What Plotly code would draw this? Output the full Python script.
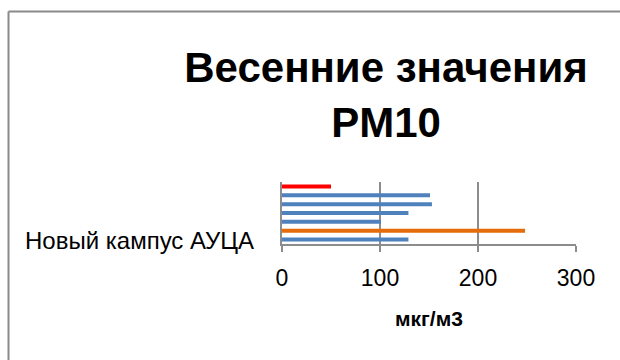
import plotly.graph_objects as go

categories = ["Новый кампус АУЦА"]
series_names = ["Серия 1", "Серия 2", "Серия 3", "Серия 4", "Серия 5", "Серия 6", "Серия 7"]
series_values = [129, 248, 101, 129, 153, 151, 50]
series_colors = ["#4F81BD", "#E46C0A", "#4F81BD", "#4F81BD", "#4F81BD", "#4F81BD", "#FF0000"]
x_ticks = [0, 100, 200, 300]
title_text = "Весенние значения<br>PM10"
x_title = "мкг/м3"

W, H = 620, 360
ml, mt = 282, 182
pw, ph = 294, 62
mr = W - ml - pw
mb = H - mt - ph

fig = go.Figure()
for name, val, col in zip(series_names, series_values, series_colors):
    fig.add_trace(go.Bar(
        y=categories, x=[val], name=name, orientation="h",
        marker=dict(color=col, line=dict(width=0)),
    ))

grid = "#8C8C8C"
font = "Liberation Sans, Arial, sans-serif"

def px_x(p):
    return (p - ml) / pw

def px_y(p):
    return (mt + ph - p) / ph

fig.update_layout(
    width=W, height=H,
    margin=dict(l=ml, r=mr, t=mt, b=mb, pad=0),
    paper_bgcolor="white", plot_bgcolor="white",
    barmode="group", bargap=0, bargroupgap=0.55,
    showlegend=False, hovermode=False,
    font=dict(family=font, color="black"),
    title=dict(text="<b>" + title_text + "</b>", x=386 / W, xanchor="center",
               y=1 - 82 / H, yanchor="middle", yref="container",
               font=dict(size=42, family=font, color="black")),
    xaxis=dict(range=[0, 300], tickvals=x_ticks, showgrid=True, gridcolor=grid, gridwidth=2,
               zeroline=False, showline=True, linecolor=grid, linewidth=2,
               ticks="outside", ticklen=6, tickwidth=2, tickcolor=grid,
               tickfont=dict(size=23, family=font, color="black"),
               ticklabelstandoff=6,
               title=dict(text="<b>" + x_title + "</b>", standoff=22,
                          font=dict(size=21, family=font, color="black"))),
    yaxis=dict(range=[-0.5, 0.5], showticklabels=False, showgrid=False, zeroline=False,
               showline=True, linecolor=grid, linewidth=2, ticks=""),
    annotations=[dict(text=categories[0], xref="paper", yref="paper",
                      x=px_x(256), y=px_y(240), xanchor="right", yanchor="middle",
                      showarrow=False, font=dict(size=24, family=font, color="black"))],
    shapes=[
        dict(type="line", xref="paper", yref="paper", x0=px_x(8.5), x1=px_x(8.5),
             y0=px_y(11.5), y1=px_y(400), line=dict(color="#8A8A8A", width=2)),
        dict(type="line", xref="paper", yref="paper", x0=px_x(8.5), x1=px_x(640),
             y0=px_y(11.5), y1=px_y(11.5), line=dict(color="#8A8A8A", width=2)),
    ],
)

fig.write_html(
    "out.html",
    config={"staticPlot": True, "displayModeBar": False},
    post_script=("var s=document.createElement('style');"
                 "s.textContent='html,body{margin:0;padding:0;overflow:hidden;scrollbar-width:none;}"
                 "::-webkit-scrollbar{display:none;width:0;height:0;}';"
                 "document.head.appendChild(s);"
                 "document.documentElement.style.margin='0';"
                 "document.body.style.margin='0';"
                 "document.documentElement.style.overflow='hidden';"
                 "document.body.style.overflow='hidden';"),
)
